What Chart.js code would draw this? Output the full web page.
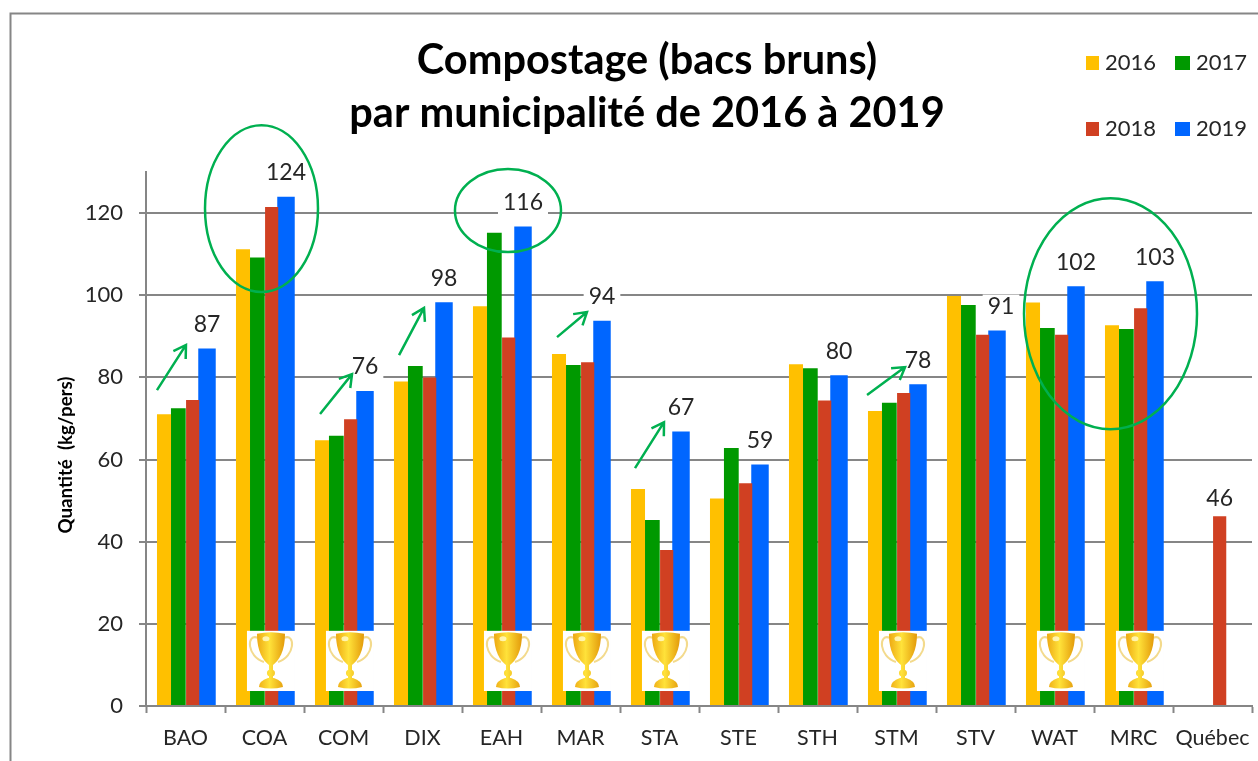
<!DOCTYPE html>
<html lang="fr">
<head>
<meta charset="utf-8">
<title>Compostage (bacs bruns)</title>
<script src="https://cdn.jsdelivr.net/npm/chart.js@4"></script>
<style>
  html, body { margin: 0; padding: 0; background: #fff; }
  canvas { display: block; }
</style>
</head>
<body>
<canvas id="compost-chart" width="1258" height="761"></canvas>
<script>
// Compostage par municipalité

const categories = ['BAO', 'COA', 'COM', 'DIX', 'EAH', 'MAR', 'STA', 'STE', 'STH', 'STM', 'STV', 'WAT', 'MRC', 'Québec'];
const values2016 = [71, 111.2, 64.7, 79, 97.3, 85.7, 52.8, 50.5, 83.2, 71.8, 99.8, 98.2, 92.7, null];
const values2017 = [72.5, 109.2, 65.8, 82.8, 115.2, 83, 45.3, 62.8, 82.2, 73.8, 97.6, 92, 91.8, null];
const values2018 = [74.5, 121.5, 69.8, 80, 89.7, 83.7, 38, 54.2, 74.4, 76.2, 90.4, 90.4, 96.8, 46.2];
const values2019 = [87, 124, 76.7, 98.3, 116.7, 93.8, 66.8, 58.8, 80.5, 78.3, 91.4, 102.2, 103.4, null];
const barLabels = ['87', '124', '76', '98', '116', '94', '67', '59', '80', '78', '91', '102', '103', '46'];
const yTicks = [0, 20, 40, 60, 80, 100, 120];
const trophyCategories = ['COA', 'COM', 'EAH', 'MAR', 'STA', 'STM', 'WAT', 'MRC'];

const GREEN_MARK = '#00B050';
const AXIS_GREY = '#868686';
const TEXT = '#262626';
const FONT = 'Lato, Carlito, sans-serif';

// annotations, in category index / axis value units
const arrows = [
  [-0.361, 76.9, 0.006, 87.9],
  [1.703, 71.1, 2.108, 80.8],
  [2.703, 85.4, 3.019, 96.9],
  [4.703, 89.8, 5.082, 95.9],
  [5.690, 57.9, 6.057, 69.1],
  [8.627, 75.7, 9.108, 82.5]
];
const ellipses = [
  [0.962, 121.1, 0.715, 20.3],
  [4.082, 120.6, 0.671, 10.1],
  [11.709, 95.5, 1.095, 28.1]
];

function drawFrame(ctx) {
  ctx.save();
  ctx.strokeStyle = AXIS_GREY;
  ctx.lineWidth = 2;
  ctx.beginPath();
  ctx.moveTo(10.5, 761);
  ctx.lineTo(10.5, 13.5);
  ctx.lineTo(1258, 13.5);
  ctx.stroke();
  ctx.restore();
}

function drawTrophy(ctx, left, top, w, h) {
  ctx.save();
  ctx.fillStyle = '#fff';
  ctx.fillRect(left, top, w, h);

  const cx = left + w / 2;
  const s = h / 60;
  const gold = ctx.createLinearGradient(cx - 14 * s, 0, cx + 14 * s, 0);
  gold.addColorStop(0, '#EDA812');
  gold.addColorStop(0.45, '#FFE23A');
  gold.addColorStop(1, '#E39A0A');

  // handles
  ctx.strokeStyle = '#F3DA8C';
  ctx.lineWidth = 2 * s;
  ctx.beginPath();
  ctx.moveTo(cx - 13 * s, top + 7 * s);
  ctx.bezierCurveTo(cx - 25 * s, top + 2 * s, cx - 24 * s, top + 26 * s, cx - 7 * s, top + 31 * s);
  ctx.moveTo(cx + 13 * s, top + 7 * s);
  ctx.bezierCurveTo(cx + 25 * s, top + 2 * s, cx + 24 * s, top + 26 * s, cx + 7 * s, top + 31 * s);
  ctx.stroke();

  // cup
  ctx.fillStyle = gold;
  ctx.beginPath();
  ctx.moveTo(cx - 14 * s, top + 3 * s);
  ctx.quadraticCurveTo(cx, top, cx + 14 * s, top + 3 * s);
  ctx.bezierCurveTo(cx + 14 * s, top + 20 * s, cx + 8 * s, top + 30 * s, cx + 2 * s, top + 34 * s);
  ctx.lineTo(cx - 2 * s, top + 34 * s);
  ctx.bezierCurveTo(cx - 8 * s, top + 30 * s, cx - 14 * s, top + 20 * s, cx - 14 * s, top + 3 * s);
  ctx.fill();

  // stem and knob
  ctx.fillRect(cx - 2 * s, top + 33 * s, 4 * s, 15 * s);
  ctx.beginPath();
  ctx.ellipse(cx, top + 42 * s, 4 * s, 3.5 * s, 0, 0, Math.PI * 2);
  ctx.fill();

  // base
  ctx.beginPath();
  ctx.moveTo(cx - 3 * s, top + 47 * s);
  ctx.lineTo(cx + 3 * s, top + 47 * s);
  ctx.quadraticCurveTo(cx + 12 * s, top + 50 * s, cx + 12 * s, top + 56 * s);
  ctx.quadraticCurveTo(cx, top + 59 * s, cx - 12 * s, top + 56 * s);
  ctx.quadraticCurveTo(cx - 12 * s, top + 50 * s, cx - 3 * s, top + 47 * s);
  ctx.fill();

  // highlight on the cup
  ctx.fillStyle = 'rgba(255,250,200,0.85)';
  ctx.beginPath();
  ctx.ellipse(cx - 5 * s, top + 8 * s, 3.5 * s, 2.5 * s, 0, 0, Math.PI * 2);
  ctx.fill();
  ctx.restore();
}

function drawArrow(ctx, x0, y0, x1, y1) {
  const angle = Math.atan2(y1 - y0, x1 - x0);
  const head = 14;
  ctx.beginPath();
  ctx.moveTo(x0, y0);
  ctx.lineTo(x1, y1);
  ctx.moveTo(x1 - head * Math.cos(angle - 0.55), y1 - head * Math.sin(angle - 0.55));
  ctx.lineTo(x1, y1);
  ctx.lineTo(x1 - head * Math.cos(angle + 0.55), y1 - head * Math.sin(angle + 0.55));
  ctx.stroke();
}

const overlayPlugin = {
  id: 'overlay',
  beforeDraw(chart) {
    drawFrame(chart.ctx);
  },
  afterDatasetsDraw(chart) {
    const { ctx, scales: { x, y } } = chart;
    const catWidth = x.getPixelForValue(1) - x.getPixelForValue(0);

    // trophies
    trophyCategories.forEach(name => {
      const i = categories.indexOf(name);
      const left = x.getPixelForValue(i - 0.222);
      const top = y.getPixelForValue(18.3);
      drawTrophy(ctx, left, top, catWidth * 0.608, y.getPixelForValue(3.65) - top);
    });

    // value labels over the 2019 bars (2018 for Québec)
    ctx.save();
    ctx.font = '23px ' + FONT;
    ctx.textAlign = 'center';
    ctx.textBaseline = 'middle';
    barLabels.forEach((label, i) => {
      const isQuebec = values2019[i] == null;
      const bar = chart.getDatasetMeta(isQuebec ? 2 : 3).data[i];
      const ly = bar.y - (isQuebec ? 18 : 24);
      const lx = label === '91' ? bar.x + 4 : bar.x;
      const w = ctx.measureText(label).width + 10;
      ctx.fillStyle = '#fff';
      ctx.fillRect(lx - w / 2, ly - 12, w, 24);
      ctx.fillStyle = TEXT;
      ctx.fillText(label, lx, ly);
    });
    ctx.restore();

    // green ellipses and arrows
    ctx.save();
    ctx.strokeStyle = GREEN_MARK;
    ctx.lineWidth = 2.5;
    ellipses.forEach(([ci, v, rc, rv]) => {
      ctx.beginPath();
      ctx.ellipse(x.getPixelForValue(ci), y.getPixelForValue(v), rc * catWidth,
        y.getPixelForValue(0) - y.getPixelForValue(rv), 0, 0, Math.PI * 2);
      ctx.stroke();
    });
    arrows.forEach(([c0, v0, c1, v1]) => {
      drawArrow(ctx, x.getPixelForValue(c0), y.getPixelForValue(v0), x.getPixelForValue(c1), y.getPixelForValue(v1));
    });
    ctx.restore();

    // y axis title
    ctx.save();
    ctx.translate(66, y.getPixelForValue(0) - 251);
    ctx.rotate(-Math.PI / 2);
    ctx.font = 'bold 18.7px ' + FONT;
    ctx.fillStyle = '#000';
    ctx.textAlign = 'center';
    ctx.textBaseline = 'middle';
    ctx.fillText('Quantité  (kg/pers)', 0, 0);
    ctx.restore();

    // legend, two rows top right
    ctx.save();
    ctx.font = '22px ' + FONT;
    ctx.textBaseline = 'middle';
    ctx.textAlign = 'left';
    chart.data.datasets.forEach((ds, i) => {
      const col = i % 2;
      const row = Math.floor(i / 2);
      const lx = col === 0 ? 1086 : 1175;
      const ly = row === 0 ? 63 : 129;
      ctx.fillStyle = ds.backgroundColor;
      ctx.fillRect(lx, ly - 7, col === 0 ? 13 : 15, 14);
      ctx.fillStyle = TEXT;
      ctx.fillText(ds.label, col === 0 ? lx + 19 : lx + 21, ly);
    });
    ctx.restore();
  }
};

// bar slots are equal in Chart.js, barPercentage gives the wider 2019 bars
new Chart(document.getElementById('compost-chart').getContext('2d'), {
  type: 'bar',
  data: {
    labels: categories,
    datasets: [
      { label: '2016', data: values2016, backgroundColor: '#FFC000', barPercentage: 0.98 },
      { label: '2017', data: values2017, backgroundColor: '#009900', barPercentage: 1.03 },
      { label: '2018', data: values2018, backgroundColor: '#D04022', barPercentage: 0.92 },
      { label: '2019', data: values2019, backgroundColor: '#0066FF', barPercentage: 1.22 }
    ]
  },
  options: {
    responsive: false,
    animation: false,
    categoryPercentage: 0.7257,
    layout: { padding: { left: 42, right: 6, top: 0, bottom: 0 } },
    plugins: {
      legend: { display: false },
      tooltip: { enabled: false },
      title: {
        display: true,
        text: ['Compostage (bacs bruns)', 'par municipalité de 2016 à 2019'],
        color: '#000',
        font: { family: FONT, size: 41.5, weight: 'bold', lineHeight: 1.277 },
        padding: { top: 34, bottom: 32 }
      }
    },
    scales: {
      x: {
        // the Québec label must not pull the plot in from the right
        afterFit(scale) { scale.height = 55; scale.paddingRight = 0; scale.paddingLeft = 0; },
        border: { color: AXIS_GREY, width: 2 },
        grid: { drawOnChartArea: false, drawTicks: true, tickLength: 7, tickWidth: 2, tickColor: AXIS_GREY },
        ticks: { color: TEXT, font: { family: FONT, size: 21.5 }, padding: 12, autoSkip: false, maxRotation: 0 }
      },
      y: {
        min: 0,
        max: 130,
        afterFit(scale) { scale.width = 104; },
        afterBuildTicks(scale) { scale.ticks = yTicks.map(value => ({ value })); },
        border: { color: AXIS_GREY, width: 2 },
        grid: { color: AXIS_GREY, lineWidth: 2, tickLength: 7 },
        ticks: { color: TEXT, font: { family: FONT, size: 22 }, padding: 16 }
      }
    }
  },
  plugins: [overlayPlugin]
});
</script>
</body>
</html>
